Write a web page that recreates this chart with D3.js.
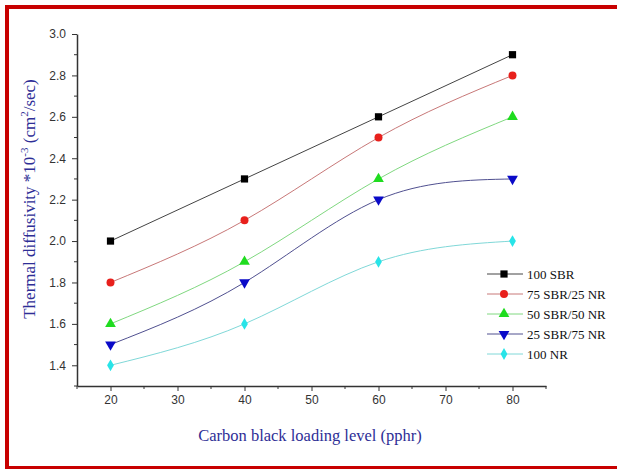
<!DOCTYPE html>
<html>
<head>
<meta charset="utf-8">
<script src="https://cdn.jsdelivr.net/npm/d3@7"></script>
<style>
  body { margin: 0; background: #fff; }
  .axis text { font-family: Arial, "Liberation Sans", sans-serif; font-size: 12px; fill: #333; }
  .axis path, .axis line { stroke: #333; }
</style>
</head>
<body>
<div id="chart"></div>
<script>
// Data
const loading = [20, 40, 60, 80]
const seriesNames = ['100 SBR', '75 SBR/25 NR', '50 SBR/50 NR', '25 SBR/75 NR', '100 NR']
const sbr100 = [2.0, 2.3, 2.6, 2.9]
const sbr75 = [1.8, 2.1, 2.5, 2.8]
const sbr50 = [1.6, 1.9, 2.3, 2.6]
const sbr25 = [1.5, 1.8, 2.2, 2.3]
const nr100 = [1.4, 1.6, 1.9, 2.0]
const xTicks = [20, 30, 40, 50, 60, 70, 80]
const yTicks = [1.4, 1.6, 1.8, 2.0, 2.2, 2.4, 2.6, 2.8, 3.0]

const seriesValues = [sbr100, sbr75, sbr50, sbr25, nr100]
const markerColors = ['#000000', '#e8201c', '#1fdc1f', '#0a0ac8', '#28e4e8']
const lineColors = ['#444444', '#c87878', '#80d880', '#505090', '#80d8d8']
const symbols = [d3.symbolSquare, d3.symbolCircle, d3.symbolTriangle, d3.symbolTriangle, d3.symbolDiamond]
const symbolSizes = [52, 50, 50, 50, 40]
const symbolRotate = [0, 0, 0, 180, 0]

// Dimensions
const width = 617
const height = 469
const margin = { left: 77, top: 34, right: 71, bottom: 83 }
const ctrWidth = width - margin.left - margin.right
const ctrHeight = height - margin.top - margin.bottom

const svg = d3.select('#chart')
  .append('svg')
  .attr('width', width)
  .attr('height', height)

// red frame
svg.append('rect')
  .attr('x', 7)
  .attr('y', 7)
  .attr('width', 640)
  .attr('height', 461)
  .attr('fill', 'none')
  .attr('stroke', '#c80000')
  .attr('stroke-width', 4)

const ctr = svg.append('g')
  .attr('transform', `translate(${margin.left}, ${margin.top})`)

// Scales
const xScale = d3.scaleLinear()
  .domain([15, 85])
  .range([0, ctrWidth])

const yScale = d3.scaleLinear()
  .domain([1.3, 3.0])
  .range([ctrHeight, 0])

// Axes
const xAxisGroup = ctr.append('g')
  .attr('class', 'axis')
  .attr('transform', `translate(0, ${ctrHeight})`)
  .call(d3.axisBottom(xScale).tickValues(xTicks).tickSize(5).tickSizeOuter(0).tickPadding(4))
xAxisGroup.select('.domain').attr('stroke-width', 1.5)
xAxisGroup.selectAll('.minor')
  .data(d3.range(15, 86, 10))
  .join('line')
  .attr('x1', d => xScale(d))
  .attr('x2', d => xScale(d))
  .attr('y1', 0)
  .attr('y2', 3)
  .attr('stroke', '#333')

const yAxisGroup = ctr.append('g')
  .attr('class', 'axis')
  .call(d3.axisLeft(yScale).tickValues(yTicks).tickFormat(d3.format('.1f')).tickSize(5).tickSizeOuter(0).tickPadding(6))
yAxisGroup.select('.domain').attr('stroke-width', 1.5)
yAxisGroup.selectAll('.minor')
  .data([1.3, 1.5, 1.7, 1.9, 2.1, 2.3, 2.5, 2.7, 2.9])
  .join('line')
  .attr('x1', 0)
  .attr('x2', -3)
  .attr('y1', d => yScale(d))
  .attr('y2', d => yScale(d))
  .attr('stroke', '#333')

// Lines
const lineGenerator = d3.line()
  .x((d, i) => xScale(loading[i]))
  .y(d => yScale(d))
  .curve(d3.curveNatural)

seriesValues.forEach((vals, s) => {
  ctr.append('path')
    .datum(vals)
    .attr('d', lineGenerator)
    .attr('fill', 'none')
    .attr('stroke', lineColors[s])
    .attr('stroke-width', 1)

  ctr.selectAll(`.pt${s}`)
    .data(vals)
    .join('path')
    .attr('d', d3.symbol(symbols[s], symbolSizes[s]))
    .attr('transform', (d, i) => `translate(${xScale(loading[i])}, ${yScale(d)}) rotate(${symbolRotate[s]})`)
    .attr('fill', markerColors[s])
})

// Legend
const legend = svg.append('g')
  .attr('transform', 'translate(487, 274)')

seriesNames.forEach((name, s) => {
  const row = legend.append('g').attr('transform', `translate(0, ${s * 20})`)
  row.append('line')
    .attr('x1', 0).attr('x2', 36)
    .attr('stroke', lineColors[s])
  row.append('path')
    .attr('d', d3.symbol(symbols[s], symbolSizes[s]))
    .attr('transform', `translate(17, 0) rotate(${symbolRotate[s]})`)
    .attr('fill', markerColors[s])
  row.append('text')
    .attr('x', 40)
    .attr('y', 5)
    .attr('font-family', '"Liberation Serif", "Times New Roman", serif')
    .attr('font-size', 13)
    .attr('fill', '#111')
    .text(name)
})

// Axis titles
svg.append('text')
  .attr('x', 310)
  .attr('y', 441)
  .attr('text-anchor', 'middle')
  .attr('font-family', '"Liberation Serif", "Times New Roman", serif')
  .attr('font-size', 16.5)
  .attr('fill', '#2e2e96')
  .text('Carbon black loading level (pphr)')

const yTitle = svg.append('text')
  .attr('transform', 'translate(35, 199) rotate(-90)')
  .attr('text-anchor', 'middle')
  .attr('font-family', '"Liberation Serif", "Times New Roman", serif')
  .attr('font-size', 17)
  .attr('fill', '#2e2e96')
yTitle.append('tspan').text('Thermal diffusivity *10')
yTitle.append('tspan').attr('font-size', 11).attr('dy', -7).text('-3')
yTitle.append('tspan').attr('dy', 7).text(' (cm')
yTitle.append('tspan').attr('font-size', 11).attr('dy', -7).text('2')
yTitle.append('tspan').attr('dy', 7).text('/sec)')
</script>
</body>
</html>
